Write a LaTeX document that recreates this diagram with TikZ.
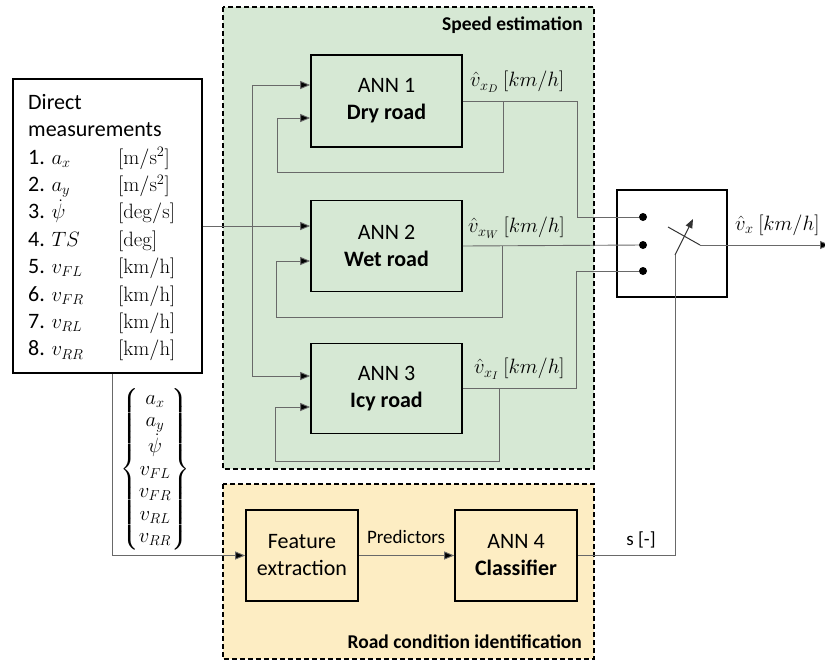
\documentclass[tikz,border=0pt]{standalone}
\usepackage{amsmath}
\usepackage[no-math]{fontspec}
\setmainfont{Carlito}
\usetikzlibrary{arrows.meta}
\definecolor{greenfill}{RGB}{214,232,212}
\definecolor{yellowfill}{RGB}{253,237,195}
\definecolor{linegray}{RGB}{105,105,105}
\begin{document}
\begin{tikzpicture}[x=1pt,y=-1pt,
  box/.style={draw=black, line width=1.6pt, inner sep=0pt, align=center,
    font=\fontsize{22}{27}\selectfont},
  conn/.style={draw=linegray, line width=0.9pt},
  arr/.style={conn, -{Triangle[length=10pt,width=8pt,fill=black]}},
  region/.style={draw=black, line width=1.1pt, dash pattern=on 5pt off 3pt},
  title/.style={font=\fontsize{19.5}{23}\selectfont\bfseries, inner sep=0pt},
  mlabel/.style={font=\fontsize{21}{24}\selectfont, inner sep=0pt, anchor=west},
  plabel/.style={font=\fontsize{19}{23}\selectfont, inner sep=0pt},
  dotn/.style={circle, fill=black, inner sep=0pt, minimum size=8pt}
]
\useasboundingbox (0,0) rectangle (825,662);

% regions
\filldraw[region, fill=greenfill] (223,7) rectangle (594,469);
\filldraw[region, fill=yellowfill] (223,484) rectangle (594,659);
\node[title, anchor=east] (tspeed) at (583,25) {Speed estimation};
\node[title, anchor=east] (troad) at (582,642) {Road condition identification};

% direct measurements
\node[box, minimum width=189pt, minimum height=294pt] (dm) at (107.5,226) {};
\node[inner sep=0pt, anchor=north west, font=\fontsize{22}{27.4}\selectfont] (dmtext) at (28,90) {%
\begin{tabular}{@{}p{90pt}@{}l@{}}
\multicolumn{2}{@{}l@{}}{Direct}\\
\multicolumn{2}{@{}l@{}}{measurements}\\
1. $a_x$ & $[\mathrm{m/s^2}]$\\
2. $a_y$ & $[\mathrm{m/s^2}]$\\
3. $\dot\psi$ & $[\mathrm{deg/s}]$\\
4. $TS$ & $[\mathrm{deg}]$\\
5. $v_{FL}$ & $[\mathrm{km/h}]$\\
6. $v_{FR}$ & $[\mathrm{km/h}]$\\
7. $v_{RL}$ & $[\mathrm{km/h}]$\\
8. $v_{RR}$ & $[\mathrm{km/h}]$
\end{tabular}};

% brace vector
\node[inner sep=0pt, font=\fontsize{21}{22.5}\selectfont] (vec) at (155,469)
  {$\left\{\begin{array}{@{}c@{}} a_x\\ a_y\\ \dot\psi\\ v_{FL}\\ v_{FR}\\ v_{RL}\\ v_{RR}\end{array}\right\}$};

% ANN boxes
\node[box, minimum width=151pt, minimum height=92pt] (ann1) at (386.5,101) {ANN 1\\\textbf{Dry road}};
\node[box, minimum width=151pt, minimum height=91pt] (ann2) at (386.5,246) {ANN 2\\\textbf{Wet road}};
\node[box, minimum width=151pt, minimum height=90pt] (ann3) at (386.5,388.5) {ANN 3\\\textbf{Icy road}};
\node[box, minimum width=112pt, minimum height=91pt] (feat) at (302,555.5) {Feature\\extraction};
\node[box, minimum width=122pt, minimum height=91pt] (ann4) at (516,555.5) {ANN 4\\\textbf{Classifier}};

% switch
\node[box, minimum width=110pt, minimum height=107pt] (sw) at (672,243.5) {};
\node[dotn] (d1) at (643,217) {};
\node[dotn] (d2) at (643,245) {};
\node[dotn] (d3) at (643,271) {};
\coordinate (piv) at (700,245);
\coordinate (lev) at (668,227);
\coordinate (sin) at (675,255);
\coordinate (stip) at (693,219);
\coordinate (outend) at (830,245);
\draw[line width=1pt, draw=black!80] (lev) -- (piv);
\draw[arr] (piv) -- (outend);
\draw[line width=1pt, draw=black!80, -{Triangle[length=9pt,width=7pt]}] (sin) -- (stip);

% inputs
\coordinate (jn) at (252,226);
\draw[arr] (dm.east) -- (ann2.west |- dm.east);
\draw[arr] (jn) |- (ann1.west |- 0,85);
\draw[arr] (jn) |- (ann3.west |- 0,376);

% ANN1 output and feedback
\draw[conn] (ann1.east) -- (577,101) -- (577,217) -- (d1);
\draw[arr] (503,101) -- (503,172) -- (277,172) -- (277,118) -- (ann1.west |- 0,118);
% ANN2
\draw[conn] (ann2.east) -- (d2);
\draw[arr] (502,246) -- (502,317) -- (276,317) -- (276,261) -- (ann2.west |- 0,261);
% ANN3
\draw[conn] (ann3.east) -- (576,388.5) -- (576,271) -- (d3);
\draw[arr] (499,388.5) -- (499,461) -- (275,461) -- (275,407) -- (ann3.west |- 0,407);

% road condition path
\draw[arr] (dm.south -| 112,0) |- (feat.west);
\draw[arr] (feat.east) -- (ann4.west);
\draw[conn] (ann4.east) -| (sin);

% labels
\node[mlabel] (l1) at (470,82) {$\hat{v}_{x_D}\ [km/h]$};
\node[mlabel] (l2) at (468,228) {$\hat{v}_{x_W}\ [km/h]$};
\node[mlabel] (l3) at (474,369) {$\hat{v}_{x_I}\ [km/h]$};
\node[mlabel] (l4) at (735,225) {$\hat{v}_{x}\ [km/h]$};
\node[plabel] (lp) at (406,537) {Predictors};
\node[plabel] (ls) at (641,540) {s [-]};
\end{tikzpicture}
\end{document}
